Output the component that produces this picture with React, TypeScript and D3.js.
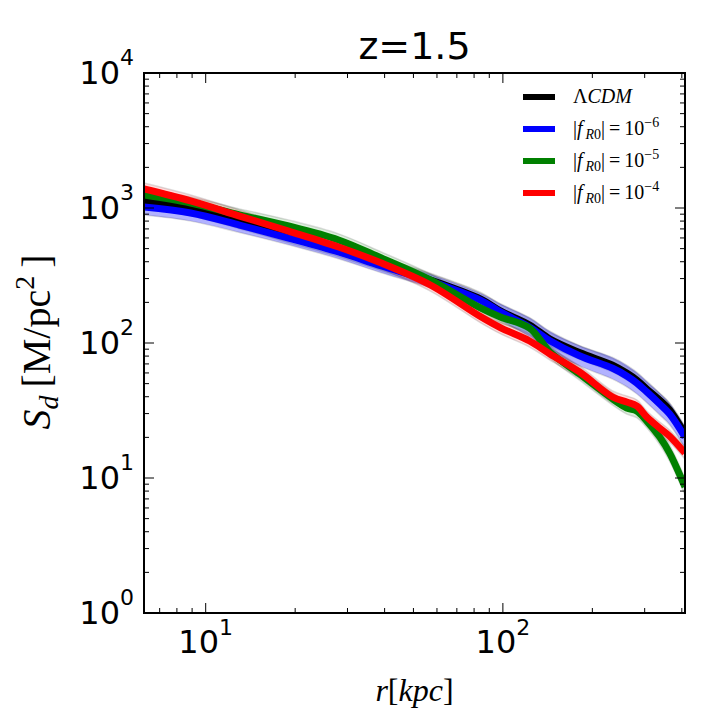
import React, { useEffect, useRef } from "react";
import * as d3 from "d3";

// radius samples (kpc) and surface density profiles (M/pc^2)
const radii = [6.2, 8.9, 13, 19, 28, 39, 57, 84, 98, 123, 144, 181, 234, 261, 282, 305, 337, 364, 410];
const lcdm = [1127, 984, 788, 621, 489, 385, 293, 212, 173, 136, 107, 85, 68.5, 59.9, 53.2, 45.6, 37.8, 31.9, 21.2];
const fR6 = [1017, 918, 748, 599, 472, 372, 288, 208, 170, 131, 104, 80.5, 65, 57, 50.6, 43.4, 35.3, 29.8, 20.1];
const fR5 = [1248, 1089, 888, 736, 580, 426, 293, 182, 156, 129, 85.8, 58.9, 38.5, 33, 31.4, 26.4, 20.1, 15.3, 8.6];
const fR4 = [1383, 1127, 872, 675, 514, 391, 269, 157, 130, 103.5, 83, 61, 39.8, 36.5, 34.2, 28.3, 23.4, 20.4, 15.3];

// half-width of the scatter band around each profile, in dex
const lcdmSpread = [0.05, 0.05, 0.05, 0.05, 0.05, 0.05, 0.05, 0.05, 0.05, 0.05, 0.05, 0.05, 0.05, 0.05, 0.05, 0.05, 0.05, 0.05, 0.05];
const fR6Spread = [0.06, 0.06, 0.055, 0.05, 0.05, 0.05, 0.05, 0.05, 0.06, 0.07, 0.07, 0.075, 0.08, 0.08, 0.08, 0.08, 0.08, 0.08, 0.08];
const fR5Spread = [0.045, 0.045, 0.045, 0.045, 0.045, 0.045, 0.045, 0.045, 0.045, 0.045, 0.045, 0.045, 0.045, 0.045, 0.05, 0.05, 0.055, 0.06, 0.06];
const fR4Spread = [0.045, 0.045, 0.045, 0.045, 0.045, 0.045, 0.045, 0.045, 0.045, 0.045, 0.045, 0.045, 0.045, 0.045, 0.045, 0.045, 0.045, 0.045, 0.045];

const seriesColors = ["#000000", "#0000ff", "#008000", "#ff0000"];
const legendExponents = ["−6", "−5", "−4"];

const xMajor = [10, 100];
const xMinor = [7, 8, 9, 20, 30, 40, 50, 60, 70, 80, 90, 200, 300, 400];
const yMajor = [1, 10, 100, 1000, 10000];
const yMinor = [0, 1, 2, 3].flatMap((k) => [2, 3, 4, 5, 6, 7, 8, 9].map((m) => m * Math.pow(10, k)));

const W = 720;
const H = 720;
const left = 144;
const right = 685;
const top = 73;
const bottom = 613;

export default function App() {
  const svgRef = useRef<SVGSVGElement>(null);

  useEffect(() => {
    if (!svgRef.current) return;
    const svg = d3.select(svgRef.current);
    svg.selectAll("*").remove();

    const x = d3.scaleLog().domain([6.2, 410]).range([left, right]);
    const y = d3.scaleLog().domain([1, 10000]).range([bottom, top]);

    svg
      .append("defs")
      .append("clipPath")
      .attr("id", "plot")
      .append("rect")
      .attr("x", left)
      .attr("y", top)
      .attr("width", right - left)
      .attr("height", bottom - top);

    const plot = svg.append("g").attr("clip-path", "url(#plot)");

    const series = [
      { vals: lcdm, spread: lcdmSpread },
      { vals: fR6, spread: fR6Spread },
      { vals: fR5, spread: fR5Spread },
      { vals: fR4, spread: fR4Spread },
    ];

    const curve = d3.curveCatmullRom.alpha(0.5);

    // bands
    series.forEach((s, si) => {
      const area = d3
        .area<number>()
        .x((_, i) => x(radii[i]))
        .y0((v, i) => y(v / Math.pow(10, s.spread[i])))
        .y1((v, i) => y(v * Math.pow(10, s.spread[i])))
        .curve(curve);
      plot
        .append("path")
        .datum(s.vals)
        .attr("d", area)
        .attr("fill", seriesColors[si])
        .attr("fill-opacity", si === 1 ? 0.3 : 0.14)
        .attr("stroke", "#000")
        .attr("stroke-opacity", 0.13)
        .attr("stroke-width", 1.5);
    });

    // lines
    series.forEach((s, si) => {
      const line = d3
        .line<number>()
        .x((_, i) => x(radii[i]))
        .y((v) => y(v))
        .curve(curve);
      plot
        .append("path")
        .datum(s.vals)
        .attr("d", line)
        .attr("fill", "none")
        .attr("stroke", seriesColors[si])
        .attr("stroke-width", 7)
        .attr("stroke-linejoin", "round");
    });

    // ticks on all four sides, pointing inward
    const ticks = svg.append("g").attr("stroke", "#000").attr("stroke-width", 1);
    const xt = (v: number, len: number) => {
      ticks.append("line").attr("x1", x(v)).attr("x2", x(v)).attr("y1", bottom).attr("y2", bottom - len);
      ticks.append("line").attr("x1", x(v)).attr("x2", x(v)).attr("y1", top).attr("y2", top + len);
    };
    const yt = (v: number, len: number) => {
      ticks.append("line").attr("y1", y(v)).attr("y2", y(v)).attr("x1", left).attr("x2", left + len);
      ticks.append("line").attr("y1", y(v)).attr("y2", y(v)).attr("x1", right).attr("x2", right - len);
    };
    xMajor.forEach((v) => xt(v, 10));
    xMinor.forEach((v) => xt(v, 5));
    yMajor.forEach((v) => yt(v, 10));
    yMinor.forEach((v) => yt(v, 5));

    svg
      .append("rect")
      .attr("x", left)
      .attr("y", top)
      .attr("width", right - left)
      .attr("height", bottom - top)
      .attr("fill", "none")
      .attr("stroke", "#000")
      .attr("stroke-width", 2);

    const sans = "'DejaVu Sans', sans-serif";
    const serif = "'Liberation Serif', 'DejaVu Serif', serif";

    // tick labels
    xMajor.forEach((v) => {
      const t = svg
        .append("text")
        .attr("x", x(v))
        .attr("y", 653)
        .attr("text-anchor", "middle")
        .attr("font-family", sans)
        .attr("font-size", 32);
      t.append("tspan").text("10");
      t.append("tspan").attr("dy", -18).attr("font-size", 22).text(String(Math.round(Math.log10(v))));
    });
    yMajor.forEach((v) => {
      const t = svg
        .append("text")
        .attr("x", 134)
        .attr("y", y(v) + 11)
        .attr("text-anchor", "end")
        .attr("font-family", sans)
        .attr("font-size", 32);
      t.append("tspan").text("10");
      t.append("tspan").attr("dy", -19).attr("font-size", 22).text(String(Math.round(Math.log10(v))));
    });

    // title
    svg
      .append("text")
      .attr("x", (left + right) / 2)
      .attr("y", 59)
      .attr("text-anchor", "middle")
      .attr("font-family", sans)
      .attr("font-size", 38)
      .text("z=1.5");

    // x label
    const xl = svg
      .append("text")
      .attr("x", (left + right) / 2)
      .attr("y", 701)
      .attr("text-anchor", "middle")
      .attr("font-family", serif)
      .attr("font-size", 32);
    xl.append("tspan").attr("font-style", "italic").text("r");
    xl.append("tspan").text("[");
    xl.append("tspan").attr("font-style", "italic").text("kpc");
    xl.append("tspan").text("]");

    // y label
    const yl = svg
      .append("text")
      .attr("transform", `translate(50,342) rotate(-90)`)
      .attr("text-anchor", "middle")
      .attr("font-family", serif)
      .attr("font-size", 40);
    yl.append("tspan").attr("font-style", "italic").text("S");
    yl.append("tspan").attr("font-style", "italic").attr("font-size", 28).attr("dy", 8).text("d");
    yl.append("tspan").attr("dy", -8).text("\u2009[M/pc");
    yl.append("tspan").attr("font-size", 28).attr("dy", -16).text("2");
    yl.append("tspan").attr("dy", 16).text("\u2009]");

    // legend
    const legend = svg.append("g");
    const rowY = [97, 129, 161, 193];
    seriesColors.forEach((c, i) => {
      legend
        .append("line")
        .attr("x1", 523)
        .attr("x2", 555)
        .attr("y1", rowY[i])
        .attr("y2", rowY[i])
        .attr("stroke", c)
        .attr("stroke-width", 6);
      const t = legend
        .append("text")
        .attr("x", 573)
        .attr("y", rowY[i] + 6)
        .attr("font-family", serif)
        .attr("font-size", 20);
      if (i === 0) {
        t.append("tspan").text("Λ");
        t.append("tspan").attr("font-style", "italic").text("CDM");
      } else {
        t.append("tspan").text("|");
        t.append("tspan").attr("font-style", "italic").text("f");
        t.append("tspan").attr("font-style", "italic").attr("font-size", 14).attr("dy", 4).text("\u2009R");
        t.append("tspan").attr("font-size", 14).text("0");
        t.append("tspan").attr("dy", -4).text("|\u2009=\u200910");
        t.append("tspan").attr("font-size", 14).attr("dy", -8).text(legendExponents[i - 1]);
      }
    });
  }, []);

  return (
    <div style={{ position: "absolute", left: 0, top: 0, width: W, height: H, background: "#fff" }}>
      <svg ref={svgRef} width={W} height={H} viewBox={`0 0 ${W} ${H}`} />
    </div>
  );
}
